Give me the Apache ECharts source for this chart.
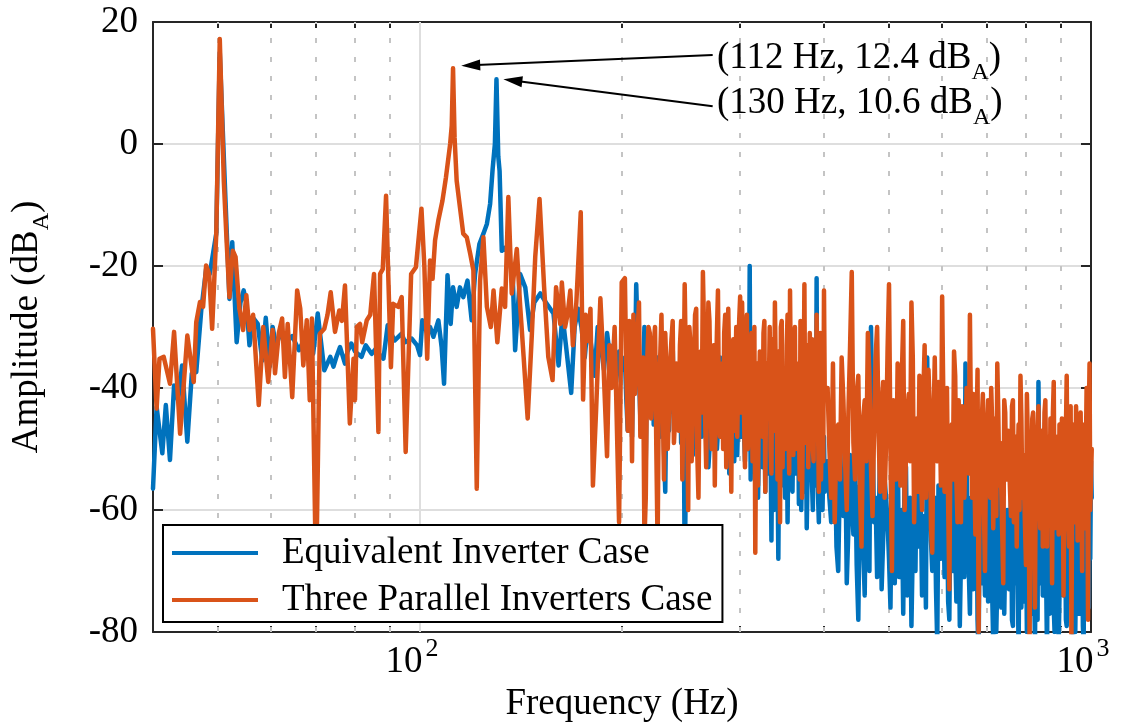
<!DOCTYPE html>
<html>
<head>
<meta charset="utf-8">
<script src="https://cdn.jsdelivr.net/npm/echarts@6/dist/echarts.min.js"></script>
<style>
  html, body { margin: 0; padding: 0; background: #fff; }
  #main { width: 1127px; height: 727px; }
</style>
</head>
<body>
<div id="main"></div>
<script>
// spectrum, [Hz, dBA] below 200 Hz
const blueLow = [
  [40,-56.5],[40.5,-43.1],[41.3,-50.7],[41.8,-42.8],[42.4,-51.8],[43,-39.6],[43.6,-42],[44.2,-36.3],[45,-48.8],
  [45.7,-37.6],[46.4,-37.4],[47.2,-27.3],[48,-20.5],[48.6,-21.3],[49.7,-14.7],[50.3,15],[51.3,-9.3],[52,-25.4],
  [52.5,-16.1],[53.3,-32.5],[54,-26],[54.6,-24],[55.1,-26],[55.7,-33],[56.4,-28.5],[57.3,-29.5],[58.2,-35.5],
  [58.9,-28.5],[59.7,-36.5],[60.3,-30],[61,-33],[62,-31],[63,-32.7],[64.5,-31.5],[66,-33.8],[67.5,-31.6],
  [69.3,-34.4],[70.4,-27.8],[72,-37.1],[73.5,-34.9],[74.3,-36.5],[75,-35],[76,-33.3],[77.3,-36],[78,-34],
  [79,-32.7],[80,-34],[81.8,-34.9],[83,-33],[84.7,-34.4],[86,-33.5],[87,-34.5],[88.2,-35.2],[89.5,-29.7],
  [90.5,-31],[91.7,-32.2],[93.9,-31.1],[95,-32.5],[97.2,-31.9],[99,-33],[100,-34.6],[100.8,-28.9],[102.5,-31],
  [103.5,-30],[104.7,-31.6],[106.5,-28.9],[107.7,-33.3],[108.6,-39.3],[109.9,-21.5],[111.1,-29.5],[112,-23.5],
  [113.4,-26.7],[114.7,-23.5],[116,-25.1],[117.7,-22.4],[119.4,-28.9],[120.8,-21.3],[122.6,-16.4],[124.3,-14.7],
  [125.8,-13.1],[127.2,-9.8],[128.3,-4.1],[129.3,0],[130,10.6],[130.8,-2],[131.4,-4.4],[132.4,-17.5],[134,-17],
  [135.5,-18],[136.5,-20],[137.5,-22],[138.6,-33.8],[141,-21.3],[143.5,-23.5],[145.9,-30.5],[148,-26],
  [151.1,-24.5],[154.5,-26.2],[158.1,-27.8],[160.9,-36.3],[163,-28],[165,-33],[168,-40.8],[170,-30],[172,-27],
  [174,-30],[176,-35],[178,-29],[180,-33.2],[182,-38],[184,-30],[186,-33],[188,-37],[190,-31],[192,-35],
  [194,-33],[196,-39],[198,-34],[200,-37]
];
const orangeLow = [
  [40,-30.3],[40.5,-43.4],[40.9,-35.2],[41.5,-34.9],[42.4,-39.3],[43,-30.8],[43.9,-47.5],[45,-31.4],[46,-39],
  [46.4,-29.2],[47,-25.9],[47.5,-26.7],[48,-19.9],[48.5,-21.3],[49,-30.3],[49.7,-14.7],[50.3,17.2],[51,-6],
  [51.5,-16],[52,-25.1],[52.6,-17.5],[53.1,-18.5],[53.8,-27],[54.5,-30.5],[55.1,-24.8],[55.7,-30.5],[56.4,-28],
  [57.5,-42.8],[58.4,-30],[59.4,-39],[60.3,-30.5],[60.8,-37.6],[61.6,-31],[62.3,-28.6],[62.9,-38.2],[63.5,-29.5],
  [64.5,-41.5],[65.6,-24],[66.3,-27],[67,-36.3],[67.8,-28.9],[68.5,-42],[69,-28.6],[70,-72],[70.9,-31.1],
  [72,-30.3],[72.8,-28],[73.6,-24.3],[74.7,-30.8],[75.8,-27.3],[76.5,-29],[77.3,-23.2],[78.6,-45.8],[79.6,-35.2],
  [80,-42],[80.5,-30],[81.4,-29.5],[82,-32.5],[83.3,-28.9],[84.3,-28],[85.4,-21.3],[86.7,-47.2],[87.2,-21.3],
  [88,-20.5],[89,-8.5],[89.7,-22],[90.5,-36.6],[91.2,-26.2],[92.8,-26.7],[93.9,-25.1],[95.2,-50.5],[97,-21.3],
  [98.6,-20.2],[100.5,-10.6],[101.5,-20],[102.5,-35.2],[103.5,-19.1],[104.4,-22.1],[105.3,-15.8],[106.5,-12.5],
  [108,-9.3],[109.3,-5.5],[110.9,0],[111.5,3],[112,12.4],[112.6,1],[113.4,-6],[114.7,-10.4],[116,-14.7],
  [117.4,-15.3],[118.8,-18],[120.1,-20.7],[121.5,-56.5],[122.9,-22.4],[124.3,-15.3],[125.8,-26.7],[127.5,-30],
  [128.7,-24],[130.4,-32.5],[132.4,-23.7],[133.9,-26.7],[135.4,-8.7],[137,-24.5],[139.4,-17.2],[141,-26.5],
  [142.7,-34.9],[144.7,-45],[146.8,-31.1],[148.5,-18.5],[150.7,-9],[153.1,-23.5],[155.3,-34.9],[157.6,-38.7],
  [159.5,-23.5],[161.8,-29.5],[162.7,-22.7],[164.5,-30],[166,-27.8],[167.5,-24],[169,-33],[171,-26],
  [173.6,-11.2],[175,-41.9],[176.5,-28],[178,-32.3],[179.5,-27],[181,-56],[183,-43.6],[185.7,-25.3],
  [187.5,-35],[190,-51.2],[191.5,-33],[193,-40],[195,-30],[198,-62],[199.8,-22.7]
];

// 202..400 Hz every 2 Hz, plus the odd bins 203..401
const midStep = 2;
const midStartA = 202, midStartB = 203;
const blueMidA = [
  -35,-47,-40,-33,-23,-38,-42,-30,-36,-44,
  -32,-39,-35,-48,-34,-57,-37,-41,-33,-45,
  -38,-36,-44,-70,-40,-33,-46,-37,-42,-35,
  -39,-45,-34,-41,-50,-36,-43,-38,-47,-35,
  -42,-38,-48,-36,-44,-40,-52,-37,-45,-41,
  -39,-47,-43,-50,-20,-44,-38,-46,-41,-49,
  -42,-53,-40,-46,-44,-51,-65,-48,-56,-43,
  -68,-41,-52,-45,-58,-44,-49,-42,-55,-47,
  -46,-53,-43,-50,-60,-45,-51,-48,-55,-44,
  -49,-56,-46,-52,-22,-58,-50,-54,-60,-48
];
const blueMidB = [
  -42,-36,-48,-39,-31,-45,-38,-52,-34,-41,
  -46,-38,-43,-35,-50,-40,-47,-36,-44,-39,
  -41,-49,-37,-55,-43,-38,-51,-40,-46,-42,
  -48,-39,-44,-53,-40,-47,-37,-50,-42,-45,
  -39,-49,-43,-54,-41,-46,-38,-51,-44,-48,
  -45,-52,-40,-48,-55,-42,-50,-47,-58,-44,
  -51,-46,-57,-43,-54,-49,-45,-60,-47,-52,
  -49,-56,-44,-53,-48,-62,-46,-51,-57,-45,
  -54,-48,-59,-46,-52,-57,-49,-63,-50,-55,
  -51,-60,-48,-56,-53,-62,-47,-58,-52,-57
];
const orangeMidA = [
  -22,-47,-33,-28,-37,-26,-44,-65,-36,-31,
  -40,-30,-66,-35,-42,-31,-50,-36,-29,-45,
  -38,-33,-55,-23,-41,-30,-52,-36,-27,-58,
  -34,-21,-45,-38,-29,-50,-33,-40,-24,-48,
  -36,-31,-53,-27,-42,-35,-47,-30,-39,-25,
  -26,-44,-33,-50,-38,-31,-46,-67,-36,-41,
  -35,-48,-29,-39,-45,-30,-54,-37,-26,-43,
  -34,-62,-29,-40,-50,-33,-46,-24,-36,-51,
  -30,-42,-38,-55,-34,-46,-23,-49,-33,-40,
  -45,-32,-52,-36,-28,-47,-39,-55,-33,-24
];
const orangeMidB = [
  -38,-29,-52,-41,-31,-48,-35,-58,-30,-45,
  -33,-50,-39,-28,-55,-37,-44,-32,-49,-36,
  -47,-29,-42,-36,-60,-33,-45,-28,-51,-39,
  -44,-30,-53,-26,-41,-35,-56,-31,-46,-37,
  -50,-28,-43,-38,-57,-32,-40,-48,-29,-44,
  -37,-53,-28,-45,-36,-52,-30,-43,-56,-34,
  -46,-31,-57,-36,-41,-50,-32,-47,-38,-55,
  -41,-30,-53,-37,-45,-28,-54,-39,-48,-33,
  -50,-36,-45,-29,-58,-40,-47,-35,-53,-31,
  -38,-50,-33,-46,-42,-57,-31,-44,-52,-40
];

// 405..1000 Hz every 5 Hz, plus the in-between bins 407.5..1002.5
const highStep = 5;
const highStartA = 405, highStartB = 407.5;
const blueHighA = [
  -52,-62,-48,-70,-55,-46,-63,-58,-50,-78,
  -60,-74,-55,-30,-62,-71,-49,-65,-58,-68,
  -56,-72,-48,-63,-77,-53,-67,-79,-58,-50,
  -66,-74,-61,-35,-54,-70,-58,-82,-62,-49,
  -71,-57,-78,-63,-52,-75,-60,-68,-55,-36,
  -64,-77,-59,-70,-53,-84,-66,-61,-74,-56,
  -69,-58,-82,-62,-72,-55,-76,-64,-68,-60,
  -73,-57,-79,-65,-61,-84,-67,-54,-75,-63,
  -70,-59,-77,-66,-82,-62,-39,-72,-58,-74,
  -65,-84,-61,-69,-56,-76,-63,-71,-82,-59,
  -67,-74,-60,-79,-64,-57,-72,-84,-62,-70,
  -58,-77,-66,-61,-82,-69,-56,-75,-64,-52
];
const blueHighB = [
  -58,-49,-66,-54,-61,-72,-51,-64,-69,-56,
  -66,-52,-70,-47,-58,-64,-73,-55,-62,-76,
  -64,-55,-71,-60,-52,-74,-58,-66,-70,-61,
  -58,-69,-76,-52,-65,-61,-73,-56,-68,-60,
  -62,-75,-56,-70,-66,-58,-79,-63,-71,-52,
  -70,-58,-73,-64,-78,-60,-72,-67,-58,-75,
  -63,-74,-60,-80,-66,-70,-59,-77,-62,-71,
  -66,-78,-61,-72,-68,-59,-76,-64,-70,-80,
  -64,-73,-60,-71,-67,-78,-56,-66,-74,-62,
  -72,-60,-77,-64,-70,-80,-58,-67,-74,-63,
  -71,-62,-78,-66,-59,-75,-68,-64,-80,-61,
  -66,-72,-60,-79,-65,-70,-62,-76,-68,-58
];
const orangeHighA = [
  -40,-58,-62,-46,-35,-52,-44,-21,-55,-38,
  -66,-42,-31,-53,-47,-30,-57,-39,-49,-23,
  -70,-44,-36,-56,-29,-51,-41,-26,-62,-45,
  -38,-60,-33,-50,-43,-67,-35,-52,-44,-25,
  -57,-40,-73,-46,-34,-55,-42,-62,-48,-50,
  -44,-28,-58,-53,-48,-80,-59,-41,-70,-46,
  -52,-40,-63,-45,-36,-56,-49,-72,-44,-54,
  -47,-61,-42,-55,-66,-46,-38,-58,-51,-69,
  -48,-82,-60,-44,-76,-52,-43,-63,-47,-55,
  -42,-66,-50,-45,-72,-39,-57,-48,-64,-53,
  -45,-74,-53,-38,-61,-49,-82,-46,-58,-43,
  -65,-52,-44,-70,-50,-59,-40,-78,-36,-55
];
const orangeHighB = [
  -50,-36,-47,-55,-42,-60,-33,-49,-41,-57,
  -45,-52,-38,-61,-35,-48,-43,-58,-34,-50,
  -42,-55,-48,-38,-60,-44,-52,-35,-49,-57,
  -53,-41,-58,-37,-63,-46,-51,-39,-56,-42,
  -44,-59,-48,-55,-38,-62,-51,-43,-58,-40,
  -54,-47,-41,-64,-37,-56,-45,-60,-50,-42,
  -58,-46,-52,-61,-44,-49,-64,-42,-55,-47,
  -57,-43,-62,-48,-53,-60,-45,-51,-63,-41,
  -59,-50,-45,-64,-53,-47,-57,-51,-66,-44,
  -56,-48,-61,-52,-44,-63,-50,-58,-46,-60,
  -52,-60,-47,-55,-66,-43,-57,-51,-62,-49,
  -48,-61,-55,-46,-63,-51,-58,-45,-60,-50
];

const seriesNames = ['Equivalent Inverter Case', 'Three Parallel Inverters Case'];
const majorFreqs = [100, 1000];
const minorFreqs = [50, 60, 70, 80, 90, 200, 300, 400, 500, 600, 700, 800, 900];
// arrow start (near text) and end (near peak), in Hz / dBA
const arrows = [
  [[273, 14.6], [119, 12.9]],
  [[273, 6.2], [137.5, 10.4]]
];

const FONT = '"Liberation Serif", "Times New Roman", Times, serif';
const BLUE = '#0072BD';
const ORANGE = '#D95319';
const AXIS = '#262626';

function onGrid(start, step, vals) {
  return vals.map((v, i) => [start + i * step, v]);
}
function build(low, midA, midB, highA, highB) {
  const rest = onGrid(midStartA, midStep, midA)
    .concat(onGrid(midStartB, midStep, midB), onGrid(highStartA, highStep, highA), onGrid(highStartB, highStep, highB))
    .sort((a, b) => a[0] - b[0]);
  return low.concat(rest);
}
const blueData = build(blueLow, blueMidA, blueMidB, blueHighA, blueHighB);
const orangeData = build(orangeLow, orangeMidA, orangeMidB, orangeHighA, orangeHighB);

// subscript: short token box pinned to the bottom of a 40px line
const subStyle = { fontFamily: FONT, fontSize: 24, height: 10, lineHeight: 10, verticalAlign: 'bottom', color: '#000' };

function logAxis(pos, ticks, len, withLine, withLabel) {
  return {
    type: 'log', logBase: 10, position: pos, min: 40, max: 1000,
    axisLine: { show: withLine, onZero: false, lineStyle: { color: AXIS, width: 2 } },
    axisTick: { show: true, inside: true, length: len, customValues: ticks, lineStyle: { color: AXIS, width: 2 } },
    axisLabel: withLabel ? {
      customValues: ticks, margin: 10,
      formatter: v => '{b|10}{s|' + Math.round(Math.log10(v)) + '}',
      rich: {
        b: { fontFamily: FONT, fontSize: 37, lineHeight: 40, color: '#000' },
        s: { fontFamily: FONT, fontSize: 26, height: 14, lineHeight: 14, verticalAlign: 'top', color: '#000', padding: [0, 16, 0, 3] }
      }
    } : { show: false },
    splitLine: { show: false },
    minorTick: { show: false }
  };
}

const xMain = logAxis('bottom', majorFreqs, 10, true, true);
xMain.name = 'Frequency (Hz)';
xMain.nameLocation = 'middle';
xMain.nameGap = 53;
xMain.nameTextStyle = { fontFamily: FONT, fontSize: 37, color: '#000' };

const chart = echarts.init(document.getElementById('main'));
chart.setOption({
  animation: false,
  backgroundColor: '#fff',
  grid: { left: 153, right: 36, top: 22, bottom: 95, containLabel: false, outerBoundsMode: 'none' },
  xAxis: [
    xMain,
    logAxis('bottom', minorFreqs, 6, false, false),
    logAxis('top', majorFreqs, 10, true, false),
    logAxis('top', minorFreqs, 6, false, false)
  ],
  yAxis: [
    {
      type: 'value', position: 'left', min: -80, max: 20, interval: 20,
      name: 'Amplitude (dB{s|A})', nameLocation: 'middle', nameGap: 106,
      nameTextStyle: { fontFamily: FONT, fontSize: 37, lineHeight: 40, color: '#000', rich: { s: subStyle } },
      axisLine: { show: true, onZero: false, lineStyle: { color: AXIS, width: 2 } },
      axisTick: { show: true, inside: true, length: 10, lineStyle: { color: AXIS, width: 2 } },
      axisLabel: { fontFamily: FONT, fontSize: 37, color: '#000', margin: 15 },
      splitLine: { show: true, lineStyle: { color: '#dedede', width: 2 } }
    },
    {
      type: 'value', position: 'right', min: -80, max: 20, interval: 20,
      axisLine: { show: true, onZero: false, lineStyle: { color: AXIS, width: 2 } },
      axisTick: { show: true, inside: true, length: 10, lineStyle: { color: AXIS, width: 2 } },
      axisLabel: { show: false },
      splitLine: { show: false }
    }
  ],
  legend: {
    data: seriesNames,
    orient: 'vertical', left: 163, top: 525,
    icon: 'rect', itemWidth: 86, itemHeight: 4, itemGap: 7,
    padding: [8, 10, 2, 9],
    borderColor: '#000', borderWidth: 2, backgroundColor: '#fff',
    textStyle: { fontFamily: FONT, fontSize: 37, lineHeight: 40, color: '#000', padding: [0, 0, 0, 19] }
  },
  graphic: [
    {
      type: 'text', left: 717, top: 38, z: 10,
      style: { text: '(112 Hz, 12.4 dB{s|A})', fontFamily: FONT, fontSize: 37, lineHeight: 40, fill: '#000',
        rich: { s: { fontFamily: FONT, fontSize: 24, height: 10, lineHeight: 10, verticalAlign: 'bottom', fill: '#000' } } }
    },
    {
      type: 'text', left: 717, top: 83, z: 10,
      style: { text: '(130 Hz, 10.6 dB{s|A})', fontFamily: FONT, fontSize: 37, lineHeight: 40, fill: '#000',
        rich: { s: { fontFamily: FONT, fontSize: 24, height: 10, lineHeight: 10, verticalAlign: 'bottom', fill: '#000' } } }
    }
  ],
  series: [
    {
      name: 'grid', type: 'line', data: [], silent: true,
      markLine: {
        silent: true, symbol: 'none', z: 1, animation: false,
        label: { show: false }, emphasis: { disabled: true },
        lineStyle: { type: [5, 14], color: '#c4c4c4', width: 2 },
        data: minorFreqs.map(f => ({ xAxis: f })).concat([
          { xAxis: 100, lineStyle: { type: 'solid', color: '#dedede', width: 2 } }
        ])
      }
    },
    {
      name: seriesNames[0], type: 'line', data: blueData, z: 2,
      showSymbol: false, symbol: 'none', color: BLUE,
      lineStyle: { color: BLUE, width: 4.5, join: 'round', cap: 'round' }
    },
    {
      name: seriesNames[1], type: 'line', data: orangeData, z: 3,
      showSymbol: false, symbol: 'none', color: ORANGE,
      lineStyle: { color: ORANGE, width: 4.5, join: 'round', cap: 'round' }
    },
    {
      name: 'notes', type: 'line', data: [], silent: true, z: 10,
      markLine: {
        silent: true, animation: false, z: 10,
        symbol: ['none', 'triangle'], symbolSize: [11, 19],
        label: { show: false }, emphasis: { disabled: true },
        lineStyle: { color: '#000', width: 2, type: 'solid' },
        itemStyle: { color: '#000' },
        data: arrows.map(a => [{ coord: a[0] }, { coord: a[1] }])
      }
    }
  ]
});
</script>
</body>
</html>
